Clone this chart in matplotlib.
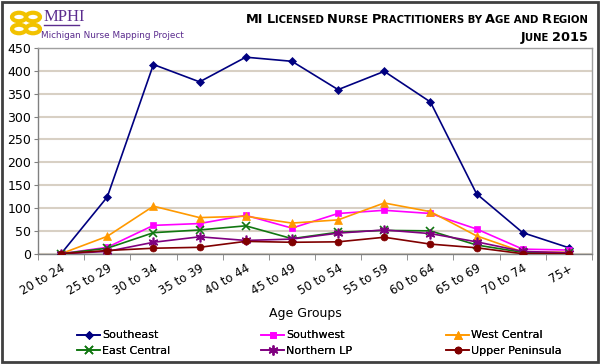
import numpy as np
import matplotlib
matplotlib.use('Agg')
import matplotlib.pyplot as plt
from matplotlib.patches import Rectangle, Circle

# Data
age_groups = ['20 to 24', '25 to 29', '30 to 34', '35 to 39', '40 to 44', '45 to 49',
              '50 to 54', '55 to 59', '60 to 64', '65 to 69', '70 to 74', '75+']
southeast = [0, 124, 414, 376, 430, 421, 359, 399, 332, 131, 46, 13]
southwest = [0, 14, 62, 66, 84, 56, 88, 95, 88, 54, 10, 8]
west_central = [0, 38, 104, 79, 82, 67, 74, 111, 92, 39, 4, 3]
east_central = [0, 12, 46, 52, 61, 33, 47, 51, 50, 19, 3, 1]
northern_lp = [0, 5, 25, 37, 29, 32, 45, 52, 44, 26, 5, 2]
upper_peninsula = [0, 7, 12, 14, 27, 25, 26, 36, 21, 13, 0, 0]
y_ticks = list(range(0, 451, 50))

series = [
    ('Southeast', southeast, '#000080', 'D', 4),
    ('Southwest', southwest, '#FF00FF', 's', 5),
    ('West Central', west_central, '#FF9900', '^', 6),
    ('East Central', east_central, '#117711', 'x', 6),
    ('Northern LP', northern_lp, '#800080', (6, 2, 0), 7),
    ('Upper Peninsula', upper_peninsula, '#800000', 'o', 5),
]

TEXT = '#000000'
PURPLE = '#5B2C8E'
GRID = '#D8D0C4'

fig = plt.figure(figsize=(6.0, 3.64), dpi=100, facecolor='white')
ax = fig.add_axes([38 / 600, 0.303, 554 / 600, 0.565])

x = np.arange(len(age_groups))
handles = []
for name, vals, color, marker, ms in series:
    h, = ax.plot(x, vals, color=color, marker=marker, markersize=ms, linewidth=1.2,
                 markeredgewidth=1.2 if marker in ('x', (6, 2, 0)) else 0.5,
                 label=name, zorder=3)
    handles.append(h)

ax.set_xlim(-0.5, len(age_groups) - 0.5)
ax.set_ylim(0, 450)
ax.set_yticks(y_ticks)
ax.tick_params(axis='y', labelsize=9, length=3, colors='#808080', labelcolor=TEXT, pad=2)
ax.set_xticks(x)
ax.set_xticklabels(age_groups, rotation=30, ha='right', rotation_mode='anchor', fontsize=8.5)
ax.tick_params(axis='x', length=0, pad=6)
# tick marks between categories (Excel style)
ax.set_xticks(np.arange(-0.5, len(age_groups)), minor=True)
ax.tick_params(axis='x', which='minor', length=4, colors='#808080')

ax.grid(True, axis='y', color=GRID, linewidth=1.5, zorder=1)
for s in ax.spines.values():
    s.set_color('#A0A0A0')
    s.set_linewidth(1)
ax.spines['left'].set_color('#808080')
ax.spines['bottom'].set_color('#808080')

fig.text(305 / 600, 1 - 314 / 364, 'Age Groups', ha='center', va='center', fontsize=9)

# legend: three columns placed separately, rows filled left to right
col_x = [77, 261, 446]
for i, cx in enumerate(col_x):
    leg = fig.legend(handles=[handles[i], handles[i + 3]], loc='center left',
                     bbox_to_anchor=(cx / 600, 1 - 343 / 364), frameon=False, fontsize=8,
                     handlelength=2.1, handletextpad=0.15, labelspacing=0.45, borderpad=0,
                     borderaxespad=0)
    fig.add_artist(leg)

# outer frame
fig.patches.append(Rectangle((0.004, 0.006), 0.992, 0.988, transform=fig.transFigure,
                             fill=False, edgecolor='#404040', linewidth=2))

# logo
for cx, cy in [(19, 17), (33, 17), (19, 29), (33, 29)]:
    fig.patches.append(Circle((cx / 600, 1 - cy / 364), 7 / 600, transform=fig.transFigure,
                              fill=False, edgecolor='#F2C200', linewidth=3))
fig.text(44 / 600, 1 - 17 / 364, 'MPHI', family='Liberation Serif', fontsize=12,
         color=PURPLE, va='center', ha='left')
fig.add_artist(plt.Line2D([44 / 600, 79 / 600], [1 - 25 / 364, 1 - 25 / 364],
                          transform=fig.transFigure, color=PURPLE, linewidth=1))
fig.text(41 / 600, 1 - 35 / 364, 'Michigan Nurse Mapping Project', fontsize=6.4,
         color=PURPLE, va='center', ha='left')


def small_caps(text, x_right, y, big, small):
    # draw text in small caps, right aligned at x_right (figure coords)
    pieces = []
    for ch in text:
        size = small if ch.islower() or ch == ' ' else big
        if pieces and pieces[-1][1] == size:
            pieces[-1][0] += ch.upper()
        else:
            pieces.append([ch.upper(), size])
    renderer = fig.canvas.get_renderer()
    objs = []
    for s, size in pieces:
        t = fig.text(0, y, s.replace(' ', '\u00a0'), fontsize=size, fontweight='bold',
                     ha='left', va='baseline')
        objs.append(t)
    widths = [t.get_window_extent(renderer=renderer).width / fig.bbox.width for t in objs]
    pos = x_right - sum(widths)
    for t, w in zip(objs, widths):
        t.set_x(pos)
        pos += w


small_caps('MI Licensed Nurse Practitioners by Age and Region', 588 / 600, 1 - 23 / 364, 9.3, 7.3)
small_caps('June 2015', 588 / 600, 1 - 41 / 364, 9.3, 7.3)

fig.savefig('out.png', dpi=100, facecolor='white')
